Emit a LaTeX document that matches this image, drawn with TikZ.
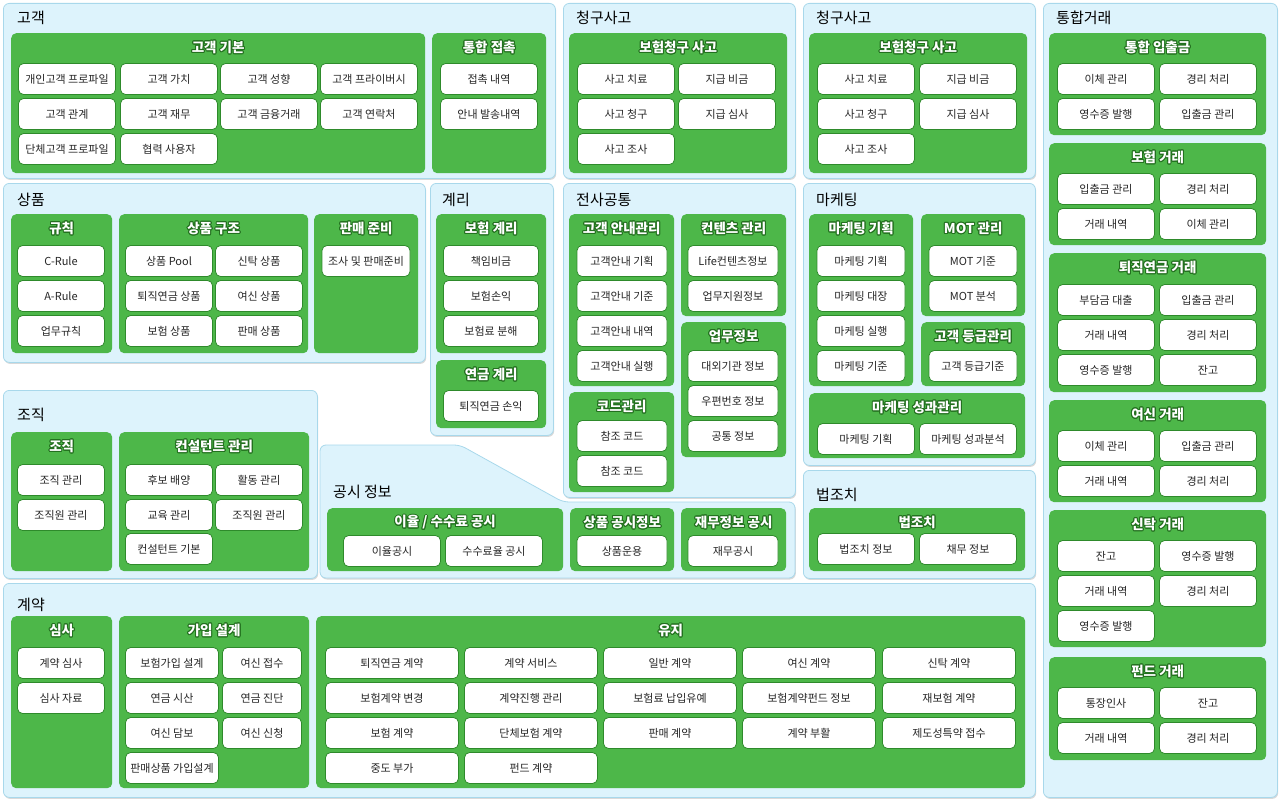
\documentclass[tikz,border=0pt]{standalone}
\usepackage{fontspec}
\setmainfont{Noto Sans CJK KR}
\usepackage{contour}
\usepackage{tikz}
\usetikzlibrary{shadows, calc}
\contourlength{1pt}

\definecolor{panelfill}{HTML}{DDF3FC}
\definecolor{panelline}{HTML}{A8D8EB}
\definecolor{grpfill}{HTML}{4DB749}
\definecolor{grpdark}{HTML}{23701F}
\definecolor{itmline}{HTML}{2E8A2B}
\definecolor{txt}{HTML}{262626}

\begin{document}
\begin{tikzpicture}[x=1pt, y=-1pt]
    % Stili dei riquadri
    \tikzset{
        panel/.style={
            draw=panelline,
            fill=panelfill,
            line width=0.8pt,
            rounded corners=6pt,
            drop shadow={shadow xshift=0.8pt, shadow yshift=-1.5pt, opacity=0.25, fill=black!60}
        },
        grp/.style={fill=grpfill, rounded corners=5pt, inner sep=0pt},
        grptitle/.style={font=\bfseries\fontsize{13.5}{15}\selectfont, text=white, inner sep=0pt},
        ptitle/.style={font=\fontsize{15}{17}\selectfont, text=black, anchor=west, inner sep=0pt},
        itm/.style={
            draw=itmline,
            fill=white,
            line width=0.8pt,
            rounded corners=5pt,
            minimum height=31pt,
            inner sep=0pt,
            text=txt,
            font=\fontsize{11}{13}\selectfont
        }
    }

    % Macro: pannello, gruppo verde, voce
    \def\pnl#1#2#3#4#5{\node[panel, anchor=north west, minimum width={(#4-#2)*1pt}, minimum height={(#5-#3)*1pt}] (#1) at (#2,#3) {};}
    \def\grp#1#2#3#4#5#6{\node[grp, anchor=north west, minimum width={(#4-#2)*1pt}, minimum height={(#5-#3)*1pt}] (#1) at (#2,#3) {};
        \node[grptitle] (#1t) at ([yshift=-15pt]#1.north) {\contour{grpdark}{#6}};}
    \def\itm#1#2#3#4#5{\node[itm, minimum width={#4*1pt}] (#1) at (#2,#3) {#5};}

    \useasboundingbox (0,0) rectangle (1280,800);

    % --- 고객 ---
    \pnl{pCust}{3}{3}{555}{178}
    \node[ptitle] (pCustT) at (17,18) {고객};
    \grp{gBasic}{11}{33}{425}{173}{고객 기본}
    \itm{b11}{67}{79}{97}{개인고객 프로파일}
    \itm{b12}{169}{79}{97}{고객 가치}
    \itm{b13}{269}{79}{97}{고객 성향}
    \itm{b14}{369}{79}{97}{고객 프라이버시}
    \itm{b21}{67}{114}{97}{고객 관계}
    \itm{b22}{169}{114}{97}{고객 재무}
    \itm{b23}{269}{114}{97}{고객 금융거래}
    \itm{b24}{369}{114}{97}{고객 연락처}
    \itm{b31}{67}{149}{97}{단체고객 프로파일}
    \itm{b32}{169}{149}{97}{협력 사용자}
    \grp{gContact}{432}{33}{546}{173}{통합 접촉}
    \itm{c1}{489}{79}{97}{접촉 내역}
    \itm{c2}{489}{114}{97}{안내 발송내역}

    % --- 청구사고 (1) ---
    \pnl{pClaimA}{563}{3}{795}{178}
    \node[ptitle] (pClaimAT) at (576,18) {청구사고};
    \grp{gClaimA}{569}{33}{787}{173}{보험청구 사고}
    \itm{ca11}{626}{79}{97}{사고 치료}
    \itm{ca12}{727}{79}{97}{지급 비금}
    \itm{ca21}{626}{114}{97}{사고 청구}
    \itm{ca22}{727}{114}{97}{지급 심사}
    \itm{ca31}{626}{149}{97}{사고 조사}

    % --- 청구사고 (2) ---
    \pnl{pClaimB}{803}{3}{1035}{178}
    \node[ptitle] (pClaimBT) at (816,18) {청구사고};
    \grp{gClaimB}{809}{33}{1027}{173}{보험청구 사고}
    \itm{cb11}{866}{79}{97}{사고 치료}
    \itm{cb12}{968}{79}{97}{지급 비금}
    \itm{cb21}{866}{114}{97}{사고 청구}
    \itm{cb22}{968}{114}{97}{지급 심사}
    \itm{cb31}{866}{149}{97}{사고 조사}

    % --- 통합거래 ---
    \pnl{pTrade}{1043}{3}{1277}{797}
    \node[ptitle] (pTradeT) at (1056,18) {통합거래};
    \grp{gInOut}{1049}{33}{1266}{135}{통합 입출금}
    \itm{t11}{1106}{79}{97}{이체 관리}
    \itm{t12}{1208}{79}{97}{경리 처리}
    \itm{t21}{1106}{114}{97}{영수증 발행}
    \itm{t22}{1208}{114}{97}{입출금 관리}
    \grp{gIns}{1049}{143}{1266}{245}{보험 거래}
    \itm{i11}{1106}{189}{97}{입출금 관리}
    \itm{i12}{1208}{189}{97}{경리 처리}
    \itm{i21}{1106}{224}{97}{거래 내역}
    \itm{i22}{1208}{224}{97}{이체 관리}
    \grp{gPension}{1049}{253}{1266}{392}{퇴직연금 거래}
    \itm{r11}{1106}{300}{97}{부담금 대출}
    \itm{r12}{1208}{300}{97}{입출금 관리}
    \itm{r21}{1106}{335}{97}{거래 내역}
    \itm{r22}{1208}{335}{97}{경리 처리}
    \itm{r31}{1106}{370}{97}{영수증 발행}
    \itm{r32}{1208}{370}{97}{잔고}
    \grp{gLoan}{1049}{400}{1266}{502}{여신 거래}
    \itm{l11}{1106}{446}{97}{이체 관리}
    \itm{l12}{1208}{446}{97}{입출금 관리}
    \itm{l21}{1106}{481}{97}{거래 내역}
    \itm{l22}{1208}{481}{97}{경리 처리}
    \grp{gTrust}{1049}{510}{1266}{647}{신탁 거래}
    \itm{s11}{1106}{556}{97}{잔고}
    \itm{s12}{1208}{556}{97}{영수증 발행}
    \itm{s21}{1106}{591}{97}{거래 내역}
    \itm{s22}{1208}{591}{97}{경리 처리}
    \itm{s31}{1106}{626}{97}{영수증 발행}
    \grp{gFund}{1049}{657}{1266}{760}{펀드 거래}
    \itm{f11}{1106}{703}{97}{통장인사}
    \itm{f12}{1208}{703}{97}{잔고}
    \itm{f21}{1106}{738}{97}{거래 내역}
    \itm{f22}{1208}{738}{97}{경리 처리}

    % --- 상품 ---
    \pnl{pProd}{3}{183}{425}{362}
    \node[ptitle] (pProdT) at (17,200) {상품};
    \grp{gRule}{11}{214}{112}{353}{규칙}
    \itm{ru1}{61}{261}{87}{C-Rule}
    \itm{ru2}{61}{296}{87}{A-Rule}
    \itm{ru3}{61}{331}{87}{업무규칙}
    \grp{gStruct}{119}{214}{308}{353}{상품 구조}
    \itm{ps11}{169}{261}{87}{상품 Pool}
    \itm{ps12}{259}{261}{87}{신탁 상품}
    \itm{ps21}{169}{296}{87}{퇴직연금 상품}
    \itm{ps22}{259}{296}{87}{여신 상품}
    \itm{ps31}{169}{331}{87}{보험 상품}
    \itm{ps32}{259}{331}{87}{판매 상품}
    \grp{gSale}{314}{214}{418}{353}{판매 준비}
    \itm{sp1}{366}{261}{88}{조사 및 판매준비}

    % --- 계리 ---
    \pnl{pAct}{430}{183}{553}{435}
    \node[ptitle] (pActT) at (442,200) {계리};
    \grp{gActIns}{436}{214}{546}{353}{보험 계리}
    \itm{ac1}{491}{261}{95}{책임비금}
    \itm{ac2}{491}{296}{95}{보험손익}
    \itm{ac3}{491}{331}{95}{보험료 분해}
    \grp{gActPen}{436}{360}{546}{428}{연금 계리}
    \itm{ap1}{491}{406}{95}{퇴직연금 손익}

    % --- 전사공통 ---
    \pnl{pCommon}{563}{183}{795}{497}
    \node[ptitle] (pCommonT) at (576,200) {전사공통};
    \grp{gGuide}{569}{214}{674}{386}{고객 안내관리}
    \itm{gu1}{622}{261}{90}{고객안내 기획}
    \itm{gu2}{622}{296}{90}{고객안내 기준}
    \itm{gu3}{622}{331}{90}{고객안내 내역}
    \itm{gu4}{622}{366}{90}{고객안내 실행}
    \grp{gCode}{569}{392}{674}{492}{코드관리}
    \itm{cd1}{622}{436}{90}{참조 코드}
    \itm{cd2}{622}{471}{90}{참조 코드}
    \grp{gContent}{681}{214}{786}{316}{컨텐츠 관리}
    \itm{ct1}{733}{261}{90}{Life컨텐츠정보}
    \itm{ct2}{733}{296}{90}{업무지원정보}
    \grp{gWork}{681}{322}{786}{457}{업무정보}
    \itm{wk1}{733}{366}{90}{대외기관 정보}
    \itm{wk2}{733}{401}{90}{우편번호 정보}
    \itm{wk3}{733}{436}{90}{공통 정보}

    % --- 마케팅 ---
    \pnl{pMkt}{803}{183}{1035}{465}
    \node[ptitle] (pMktT) at (816,200) {마케팅};
    \grp{gPlan}{809}{214}{913}{386}{마케팅 기획}
    \itm{mk1}{861}{261}{88}{마케팅 기획}
    \itm{mk2}{861}{296}{88}{마케팅 대장}
    \itm{mk3}{861}{331}{88}{마케팅 실행}
    \itm{mk4}{861}{366}{88}{마케팅 기준}
    \grp{gMot}{921}{214}{1025}{316}{MOT 관리}
    \itm{mo1}{973}{261}{88}{MOT 기준}
    \itm{mo2}{973}{296}{88}{MOT 분석}
    \grp{gGrade}{921}{322}{1025}{386}{고객 등급관리}
    \itm{gr1}{973}{366}{88}{고객 등급기준}
    \grp{gPerf}{809}{393}{1025}{458}{마케팅 성과관리}
    \itm{pf1}{866}{439}{97}{마케팅 기획}
    \itm{pf2}{968}{439}{97}{마케팅 성과분석}

    % --- 법조치 ---
    \pnl{pLaw}{803}{470}{1035}{578}
    \node[ptitle] (pLawT) at (816,495) {법조치};
    \grp{gLaw}{809}{508}{1025}{571}{법조치}
    \itm{lw1}{866}{549}{97}{법조치 정보}
    \itm{lw2}{968}{549}{97}{채무 정보}

    % --- 조직 ---
    \pnl{pOrg}{3}{390}{317}{578}
    \node[ptitle] (pOrgT) at (17,415) {조직};
    \grp{gOrg}{11}{432}{112}{571}{조직}
    \itm{og1}{61}{480}{87}{조직 관리}
    \itm{og2}{61}{515}{87}{조직원 관리}
    \grp{gCons}{119}{432}{309}{571}{컨설턴트 관리}
    \itm{cs11}{169}{480}{87}{후보 배양}
    \itm{cs12}{259}{480}{87}{활동 관리}
    \itm{cs21}{169}{515}{87}{교육 관리}
    \itm{cs22}{259}{515}{87}{조직원 관리}
    \itm{cs31}{169}{549}{87}{컨설턴트 기본}

    % --- 공시 정보 (pannello con lato obliquo) ---
    \draw[panel] (320,445) -- (460,445) -- (563,502) -- (795,502) -- (795,578) -- (320,578) -- cycle;
    \node[ptitle] (pDiscT) at (333,492) {공시 정보};
    \grp{gRate}{327}{508}{563}{571}{이율 / 수수료 공시}
    \itm{dr1}{392}{551}{97}{이율공시}
    \itm{dr2}{494}{551}{97}{수수료율 공시}
    \grp{gProdDisc}{570}{508}{674}{571}{상품 공시정보}
    \itm{dp1}{622}{551}{90}{상품운용}
    \grp{gFinDisc}{681}{508}{786}{571}{재무정보 공시}
    \itm{df1}{733}{551}{90}{재무공시}

    % --- 계약 ---
    \pnl{pContract}{3}{583}{1035}{797}
    \node[ptitle] (pContractT) at (17,605) {계약};
    \grp{gReview}{11}{616}{112}{788}{심사}
    \itm{rv1}{61}{663}{87}{계약 심사}
    \itm{rv2}{61}{698}{87}{심사 자료}
    \grp{gDesign}{119}{616}{309}{788}{가입 설계}
    \itm{ds11}{172}{663}{93}{보험가입 설계}
    \itm{ds12}{262}{663}{79}{여신 접수}
    \itm{ds21}{172}{698}{93}{연금 시산}
    \itm{ds22}{262}{698}{79}{연금 진단}
    \itm{ds31}{172}{733}{93}{여신 담보}
    \itm{ds32}{262}{733}{79}{여신 신청}
    \itm{ds41}{172}{768}{93}{판매상품 가입설계}
    \grp{gKeep}{316}{616}{1025}{788}{유지}
    \itm{kp11}{392}{663}{133}{퇴직연금 계약}
    \itm{kp12}{531}{663}{133}{계약 서비스}
    \itm{kp13}{670}{663}{133}{일반 계약}
    \itm{kp14}{809}{663}{133}{여신 계약}
    \itm{kp15}{949}{663}{133}{신탁 계약}
    \itm{kp21}{392}{698}{133}{보험계약 변경}
    \itm{kp22}{531}{698}{133}{계약진행 관리}
    \itm{kp23}{670}{698}{133}{보험료 납입유예}
    \itm{kp24}{809}{698}{133}{보험계약펀드 정보}
    \itm{kp25}{949}{698}{133}{재보험 계약}
    \itm{kp31}{392}{733}{133}{보험 계약}
    \itm{kp32}{531}{733}{133}{단체보험 계약}
    \itm{kp33}{670}{733}{133}{판매 계약}
    \itm{kp34}{809}{733}{133}{계약 부활}
    \itm{kp35}{949}{733}{133}{제도성특약 접수}
    \itm{kp41}{392}{768}{133}{중도 부가}
    \itm{kp42}{531}{768}{133}{펀드 계약}

\end{tikzpicture}
\end{document}
